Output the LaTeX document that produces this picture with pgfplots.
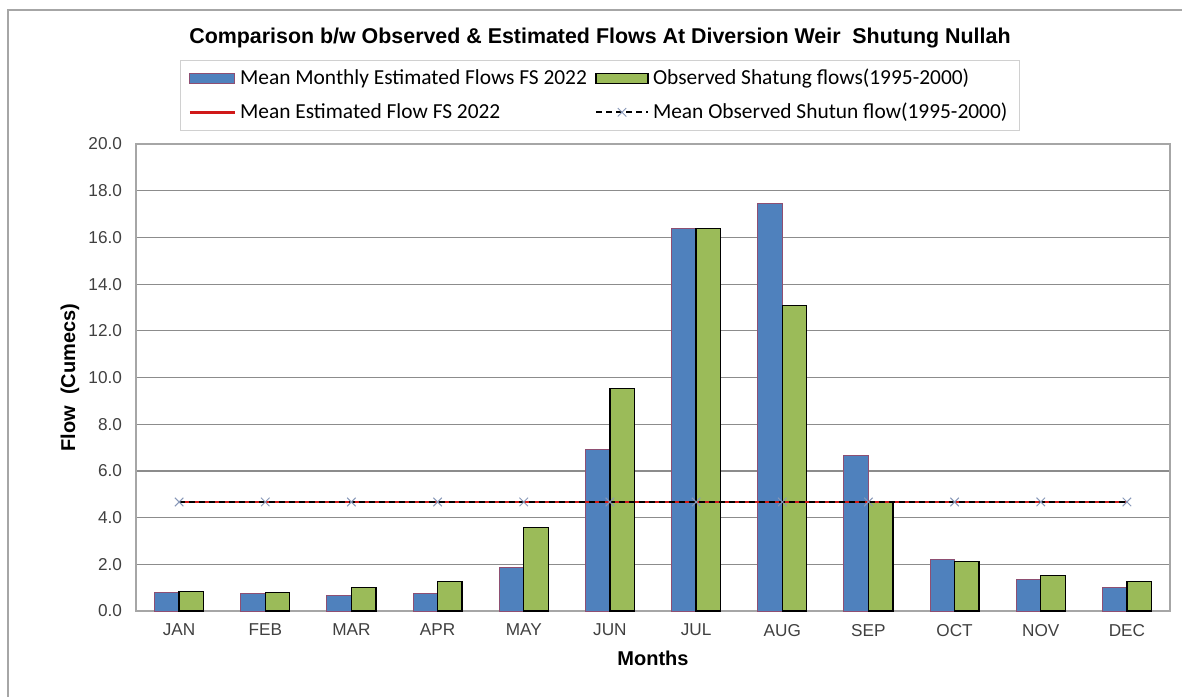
\documentclass[border=0pt]{standalone}
\usepackage{fontspec}
\setmainfont{Liberation Sans}
\newfontfamily\legendfont{Carlito}
\usepackage{pgfplots}
\usepackage{pgfplotstable}
\pgfplotsset{compat=1.18}

\definecolor{estblue}{HTML}{4F81BD}
\definecolor{estedge}{HTML}{8E4F72}
\definecolor{obsgreen}{HTML}{9BBB59}
\definecolor{meanred}{HTML}{D01818}
\definecolor{markblue}{HTML}{8898B8}
\definecolor{gridgray}{HTML}{8C8C8C}
\definecolor{framegray}{HTML}{A6A6A6}
\definecolor{ticktext}{HTML}{404040}
\definecolor{legendgray}{HTML}{D0D0D0}

% Legend swatches
\pgfplotsset{
  barkeyA/.style={legend image code/.code={\draw[##1] (0pt,-2.6pt) rectangle (22.5pt,2.6pt);}},
  barkeyB/.style={legend image code/.code={\draw[##1] (0pt,-2.6pt) rectangle (26pt,2.6pt);}},
  linekeyA/.style={legend image code/.code={\draw[##1] (0pt,0pt) -- (22.5pt,0pt);}},
  linekeyB/.style={legend image code/.code={%
    \draw[##1] (0pt,0pt) -- (26pt,0pt);
    \draw[##1, mark repeat=2, mark phase=2] plot coordinates {(0pt,0pt) (13pt,0pt) (26pt,0pt)};}},
}

% Monthly flows (cumecs)
\pgfplotstableread{
idx est obs
0  0.80  0.83
1  0.74  0.81
2  0.67  1.00
3  0.74  1.25
4  1.85  3.58
5  6.92  9.54
6  16.39 16.39
7  17.46 13.07
8  6.68  4.64
9  2.21  2.11
10 1.33  1.51
11 1.00  1.25
}\flows

\begin{document}
\begin{tikzpicture}
\begin{scope}[x=0.5pt,y=-0.5pt]
  \path[use as bounding box] (0,0) rectangle (1182,697);
  \draw[framegray, line width=1pt] (8,697) -- (8,10) -- (1182,10);
\end{scope}
\begin{axis}[
  at={(68pt,-305.5pt)}, anchor=south west,
  scale only axis, width=517pt, height=233.5pt,
  ybar=0pt, bar width=12.25pt,
  xmin=-0.5, xmax=11.5,
  ymin=0, ymax=20,
  xtick=data,
  xticklabels={JAN,FEB,MAR,APR,MAY,JUN,JUL,AUG,SEP,OCT,NOV,DEC},
  ytick={0,2,...,20},
  major tick length=0pt,
  ymajorgrids,
  grid style={gridgray, line width=0.6pt},
  axis line style={framegray, line width=0.6pt},
  /pgf/number format/.cd, fixed, fixed zerofill, precision=1, assume math mode=true,
  /pgfplots/.cd,
  tick label style={font=\fontsize{8.6}{10}\selectfont, text=ticktext},
  yticklabel style={xshift=-3.5pt},
  xticklabel style={yshift=-3pt},
  xlabel={Months},
  xlabel style={font=\bfseries\fontsize{10}{12}\selectfont,
    at={(axis description cs:0.5,-0.101)}, anchor=center},
  ylabel={Flow~~(Cumecs)},
  ylabel style={font=\bfseries\fontsize{10}{12}\selectfont,
    at={(axis description cs:-0.0639,0.5)}, anchor=center},
  title={Comparison b/w Observed \& Estimated Flows At Diversion Weir~~Shutung Nullah},
  title style={font=\bfseries\fontsize{10.7}{12}\selectfont,
    at={(axis description cs:0.4487,1.2020)}, anchor=center},
  legend columns=2,
  legend cell align=left,
  legend style={
    at={(axis description cs:0.4487,1.104)}, anchor=center,
    draw=legendgray, line width=0.6pt,
    font=\legendfont\fontsize{10.7}{12}\selectfont,
    inner xsep=4pt, inner ysep=2.5pt, row sep=3.5pt,
    /tikz/every even column/.append style={column sep=2pt},
  },
]
\addplot[fill=estblue, draw=estedge, line width=0.5pt, barkeyA]
  table[x=idx, y=est] {\flows};
\addlegendentry{Mean Monthly Estimated Flows FS 2022}
\addplot[fill=obsgreen, draw=black, line width=0.6pt, barkeyB]
  table[x=idx, y=obs] {\flows};
\addlegendentry{Observed Shatung flows(1995-2000)}
\addplot[sharp plot, meanred, line width=1.3pt, no marks, linekeyA]
  coordinates {(0,4.67) (1,4.67) (2,4.67) (3,4.67) (4,4.67) (5,4.67)
               (6,4.67) (7,4.67) (8,4.67) (9,4.67) (10,4.67) (11,4.67)};
\addlegendentry{Mean Estimated Flow FS 2022}
\addplot[sharp plot, black, line width=1pt, dash pattern=on 3pt off 2pt,
  mark=x, mark size=3pt, mark options={solid, markblue, line width=0.5pt}, linekeyB]
  coordinates {(0,4.67) (1,4.67) (2,4.67) (3,4.67) (4,4.67) (5,4.67)
               (6,4.67) (7,4.67) (8,4.67) (9,4.67) (10,4.67) (11,4.67)};
\addlegendentry{Mean Observed Shutun flow(1995-2000)}
\end{axis}
\end{tikzpicture}
\end{document}
